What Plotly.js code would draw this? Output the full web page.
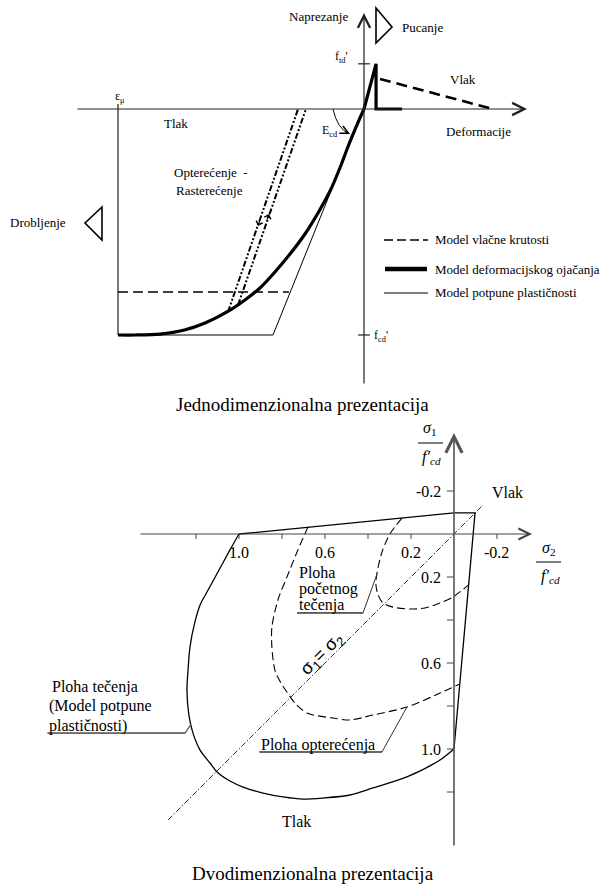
<!DOCTYPE html>
<html><head><meta charset="utf-8">
<script src="https://cdn.plot.ly/plotly-3.0.1.min.js"></script>
<style>html,body{margin:0;padding:0;background:#fff}</style>
</head><body><div id="chart" style="width:606px;height:884px"></div>
<script>
// ===== Top diagram (1D): strain eps (eps_mu = -1), stress sig (f'cd = -1) =====
const hardCurveEps = [-1.0,-0.93,-0.83,-0.73,-0.646,-0.557,-0.484,-0.423,-0.362,-0.301,-0.24,-0.187,-0.138,-0.098,-0.061,-0.029,0];
const hardCurveSig = [-1.0,-1.0,-0.996,-0.978,-0.947,-0.898,-0.845,-0.792,-0.721,-0.642,-0.553,-0.46,-0.363,-0.261,-0.155,-0.071,0];
const hardTensEps = [0, 0.049, 0.049, 0.155];
const hardTensSig = [0, 0.2, 0, 0];
const plastEps = [-1.0, -0.37, 0];
const plastSig = [-1.0, -1.0, 0];
const stiffCompEps = [-1.0, -0.305];
const stiffCompSig = [-0.81, -0.81];
const stiffTensEps = [0.065, 0.524];
const stiffTensSig = [0.133, 0];
const load1Eps = [-0.553, -0.268];
const load1Sig = [-0.898, 0];
const load2Eps = [-0.512, -0.236];
const load2Sig = [-0.867, 0];
const epsMu = -1.0;
const stressTicks = [0.2, -1.0];

// ===== Bottom diagram (2D): sigma2/f'cd (x), sigma1/f'cd (y) =====
const yieldCurveS2 = [1.0,1.042,1.098,1.149,1.181,1.205,1.228,1.237,1.242,1.233,1.214,1.181,1.135,1.102,1.042,0.981,0.888,0.795,0.702,0.609,0.484,0.377,0.219,0.065,0];
const yieldCurveS1 = [0,0.074,0.177,0.270,0.330,0.409,0.526,0.633,0.726,0.842,0.926,1.005,1.065,1.107,1.149,1.177,1.205,1.223,1.233,1.228,1.214,1.181,1.130,1.051,1.0];
const yieldEdgeS2 = [0, -0.098, 0, 1.0];
const yieldEdgeS1 = [1.0, -0.098, -0.098, 0];
const loadS2 = [0.679,0.726,0.777,0.819,0.847,0.847,0.833,0.805,0.777,0.740,0.684,0.563,0.484,0.377,0.219,0.065,-0.027];
const loadS1 = [-0.033,0.074,0.200,0.307,0.433,0.526,0.633,0.693,0.735,0.786,0.833,0.856,0.865,0.842,0.805,0.740,0.698];
const initS2 = [0.242,0.298,0.335,0.358,0.363,0.353,0.330,0.284,0.205,0.135,0.065,0.005,-0.068];
const initS1 = [-0.074,0,0.084,0.181,0.237,0.284,0.321,0.340,0.349,0.344,0.321,0.293,0.237];
const equalS = [1.33, -0.135];
const s2Ticks = [1.2, 1.0, 0.8, 0.6, 0.4, 0.2, -0.2];
const s2TickLabels = ['', '1.0', '', '0.6', '', '0.2', '-0.2'];
const s1Ticks = [-0.2, 0.2, 0.4, 0.6, 0.8, 1.0, 1.2];
const s1TickLabels = ['-0.2', '0.2', '', '0.6', '', '1.0', ''];
const leaderInitS2 = [0.730, 0.423, 0.358];
const leaderInitS1 = [0.367, 0.367, 0.186];
const leaderLoadS2 = [0.902, 0.335, 0.219];
const leaderLoadS1 = [1.014, 1.014, 0.805];
const leaderYieldS2 = [1.888, 1.251, 1.223];
const leaderYieldS1 = [0.926, 0.926, 0.884];

const W = 606, H = 884;
const SERIF = 'Liberation Serif, Times New Roman, serif';
const X = px => px / W, Y = py => 1 - py / H;

function line(x, y, opts, ax2) {
  return Object.assign({type:'scatter', mode:'lines', x, y, hoverinfo:'skip', showlegend:false,
    xaxis: ax2 ? 'x2' : 'x', yaxis: ax2 ? 'y2' : 'y'}, opts);
}
function segs(vals, a, b, vertical) {
  const xs = [], ys = [];
  vals.forEach(v => {
    if (vertical) { xs.push(a, b, null); ys.push(v, v, null); }
    else { xs.push(v, v, null); ys.push(a, b, null); }
  });
  return [xs, ys];
}
const topTicks = segs(stressTicks, -0.024, 0.024, true);
const botS2Ticks = segs(s2Ticks, 0, 0.023, false);
const botS1Ticks = segs(s1Ticks, 0, 0.033, true);

const traces = [
  line([epsMu, epsMu], [0.022, -1.0], {line:{color:'#222', width:1.2}}),
  line(topTicks[0], topTicks[1], {line:{color:'#222', width:1.2}}),
  line(plastEps, plastSig, {line:{color:'#000', width:1}}),
  line(stiffCompEps, stiffCompSig, {line:{color:'#000', width:1.6, dash:'10px,5px'}}),
  line(stiffTensEps, stiffTensSig, {line:{color:'#000', width:2.6, dash:'11px,6px'}}),
  line(load1Eps, load1Sig, {line:{color:'#000', width:2, dash:'6px,2px,2px,2px,2px,2px'}}),
  line(load2Eps, load2Sig, {line:{color:'#000', width:2, dash:'6px,2px,2px,2px,2px,2px'}}),
  line(hardCurveEps, hardCurveSig, {line:{color:'#000', width:3.2, shape:'spline', smoothing:0.8}}),
  line(hardTensEps, hardTensSig, {line:{color:'#000', width:3.2}}),
  // bottom
  line(botS2Ticks[0], botS2Ticks[1], {line:{color:'#444', width:1}}, true),
  line(botS1Ticks[0], botS1Ticks[1], {line:{color:'#444', width:1}}, true),
  line(equalS, equalS, {line:{color:'#000', width:0.8, dash:'6px,2px,1.5px,2px'}}, true),
  line(yieldCurveS2, yieldCurveS1, {line:{color:'#000', width:1.3, shape:'spline', smoothing:0.8}}, true),
  line(yieldEdgeS2, yieldEdgeS1, {line:{color:'#000', width:1.3}}, true),
  line(loadS2, loadS1, {line:{color:'#000', width:1.1, dash:'8px,4px', shape:'spline', smoothing:0.8}}, true),
  line(initS2, initS1, {line:{color:'#000', width:1.1, dash:'8px,4px', shape:'spline', smoothing:0.8}}, true),
  line(leaderInitS2, leaderInitS1, {line:{color:'#333', width:1}}, true),
  line(leaderLoadS2, leaderLoadS1, {line:{color:'#333', width:1}}, true),
  line(leaderYieldS2, leaderYieldS1, {line:{color:'#555', width:1.2}}, true)
];

function txt(s, px, py, size, extra) {
  return Object.assign({xref:'paper', yref:'paper', x:X(px), y:Y(py), text:s, showarrow:false,
    font:{family:SERIF, size:size, color:'#000'}, xanchor:'center', yanchor:'middle'}, extra || {});
}
function axisArrow(xr, yr, x, y, ax, ay, color, width) {
  return {xref:xr, yref:yr, axref:xr, ayref:yr, x, y, ax, ay, text:'', showarrow:true,
    arrowhead:5, arrowsize:2, arrowwidth:width, arrowcolor:color, standoff:0};
}

const annotations = [
  // axes with arrows
  axisArrow('x','y', 0, 0.4248, 0, -1.2212, '#222', 1.2),
  axisArrow('x','y', 0.6626, 0, -1.1707, 0, '#222', 1.2),
  axisArrow('x2','y2', 0, -0.470, 0, 1.456, '#555', 1.6),
  axisArrow('x2','y2', -0.363, 0, 1.465, 0, '#444', 1.1),
  // E_cd arc arrowhead
  {xref:'paper', yref:'paper', x:X(350), y:Y(134), ax:-6, ay:-3, text:'', showarrow:true,
   arrowhead:5, arrowsize:1.6, arrowwidth:1, arrowcolor:'#000', standoff:0},
  // loading / unloading direction heads (small)
  {xref:'paper', yref:'paper', x:X(258), y:Y(226), ax:2.4, ay:-7, text:'', showarrow:true,
   arrowhead:4, arrowsize:1.1, arrowwidth:1.2, arrowcolor:'#000', standoff:0},
  {xref:'paper', yref:'paper', x:X(269), y:Y(214), ax:-2.4, ay:7, text:'', showarrow:true,
   arrowhead:4, arrowsize:1.1, arrowwidth:1.2, arrowcolor:'#000', standoff:0},
  // top labels
  txt('Naprezanje', 318, 16, 13),
  txt('Pucanje', 422, 27, 13),
  txt("f<sub>td</sub>'", 341, 57, 12),
  txt('Vlak', 463, 79, 13),
  txt('Deformacije', 478, 131, 13),
  txt('ε<sub>μ</sub>', 120, 97, 12),
  txt('Tlak', 176, 124, 13),
  txt('E<sub>cd</sub>', 330, 131, 12),
  txt('Opterećenje  -', 211, 173, 13),
  txt('Rasterećenje', 209, 190, 13),
  txt('Drobljenje', 38, 222, 13),
  txt("f<sub>cd</sub>'", 381, 336, 12),
  txt('Model vlačne krutosti', 433, 240, 13, {xanchor:'left'}),
  txt('Model deformacijskog ojačanja', 433, 269, 13, {xanchor:'left'}),
  txt('Model potpune plastičnosti', 433, 293, 13, {xanchor:'left'}),
  txt('Jednodimenzionalna prezentacija', 302, 405, 19),
  // bottom labels
  txt('<i>σ</i><sub>1</sub>', 429, 428, 16),
  txt('<i>f′</i><sub><i>cd</i></sub>', 431, 457, 16),
  txt('<i>σ</i><sub>2</sub>', 548, 548, 16),
  txt('<i>f′</i><sub><i>cd</i></sub>', 550, 576, 16),
  txt('Vlak', 507, 492, 16),
  txt('Ploha', 297, 572, 16, {xanchor:'left'}),
  txt('početnog', 297, 589, 16, {xanchor:'left'}),
  txt('tečenja', 297, 605, 16, {xanchor:'left'}),
  txt('Ploha tečenja', 50, 687, 16, {xanchor:'left'}),
  txt('(Model potpune', 47, 706, 16, {xanchor:'left'}),
  txt('plastičnosti)', 47, 726, 16, {xanchor:'left'}),
  txt('Ploha opterećenja', 259, 745, 16, {xanchor:'left'}),
  txt('Tlak', 296, 821, 16),
  txt('Dvodimenzionalna prezentacija', 313, 873, 19),
  {xref:'paper', yref:'paper', x:X(322), y:Y(654), text:'σ<sub>1</sub>= σ<sub>2</sub>', showarrow:false,
   textangle:-45, font:{family:'Liberation Sans, Arial, sans-serif', size:18, color:'#000'},
   xanchor:'center', yanchor:'middle'}
];
// tick labels through the axes
s2Ticks.forEach((v, i) => { if (s2TickLabels[i]) annotations.push({xref:'x2', yref:'y2', x:v, y:0,
  yshift:-18, text:s2TickLabels[i], showarrow:false, font:{family:SERIF, size:16, color:'#000'},
  xanchor:'center', yanchor:'middle'}); });
s1Ticks.forEach((v, i) => { if (s1TickLabels[i]) annotations.push({xref:'x2', yref:'y2', x:0, y:v,
  xshift:-11, text:s1TickLabels[i], showarrow:false, font:{family:SERIF, size:16, color:'#000'},
  xanchor:'right', yanchor:'middle'}); });

function pth(pts, close) {
  return pts.map((p, i) => (i ? 'L' : 'M') + X(p[0]) + ',' + Y(p[1])).join(' ') + (close ? ' Z' : '');
}
const shapes = [
  {type:'path', xref:'paper', yref:'paper', path:pth([[376,8],[392,27],[376,43]], true), line:{color:'#000', width:1.6}},
  {type:'path', xref:'paper', yref:'paper', path:pth([[102,207],[85,223],[102,240]], true), line:{color:'#000', width:1.6}},
  {type:'path', xref:'paper', yref:'paper',
   path:'M' + X(333) + ',' + Y(109) + ' Q' + X(337) + ',' + Y(128) + ' ' + X(349) + ',' + Y(134), line:{color:'#000', width:1}},
  // legend samples
  {type:'line', xref:'paper', yref:'paper', x0:X(384), x1:X(428), y0:Y(240), y1:Y(240), line:{color:'#000', width:1.6, dash:'9px,4px'}},
  {type:'line', xref:'paper', yref:'paper', x0:X(385), x1:X(427), y0:Y(269), y1:Y(269), line:{color:'#000', width:4.5}},
  {type:'line', xref:'paper', yref:'paper', x0:X(384), x1:X(428), y0:Y(293), y1:Y(293), line:{color:'#000', width:1}},
  // fraction bars
  {type:'line', xref:'paper', yref:'paper', x0:X(418), x1:X(443), y0:Y(443), y1:Y(443), line:{color:'#000', width:1}},
  {type:'line', xref:'paper', yref:'paper', x0:X(536), x1:X(561), y0:Y(562), y1:Y(562), line:{color:'#000', width:1}},
  // label underlines
  {type:'line', xref:'paper', yref:'paper', x0:X(297), x1:X(363), y0:Y(613), y1:Y(613), line:{color:'#333', width:1}},
  {type:'line', xref:'paper', yref:'paper', x0:X(259), x1:X(382), y0:Y(752), y1:Y(752), line:{color:'#333', width:1}},
  {type:'line', xref:'paper', yref:'paper', x0:X(47), x1:X(185), y0:Y(733), y1:Y(733), line:{color:'#555', width:1.2}}
];

const axCfg = {showgrid:false, zeroline:false, showticklabels:false, showline:false, ticks:'', fixedrange:true, domain:[0,1]};
const layout = {
  width:W, height:H, margin:{l:0, r:0, t:0, b:0}, paper_bgcolor:'#fff', plot_bgcolor:'#fff',
  showlegend:false, hovermode:false,
  xaxis:Object.assign({}, axCfg, {range:[-1.4797, 0.9837]}),
  yaxis:Object.assign({}, axCfg, {range:[-3.4292, 0.4823]}),
  xaxis2:Object.assign({}, axCfg, {range:[2.1116, -0.7070], overlaying:'x', anchor:'y2'}),
  yaxis2:Object.assign({}, axCfg, {range:[1.6279, -2.4837], overlaying:'y', anchor:'x2'}),
  annotations, shapes
};
Plotly.newPlot('chart', traces, layout, {staticPlot:true, displayModeBar:false});
</script></body></html>
